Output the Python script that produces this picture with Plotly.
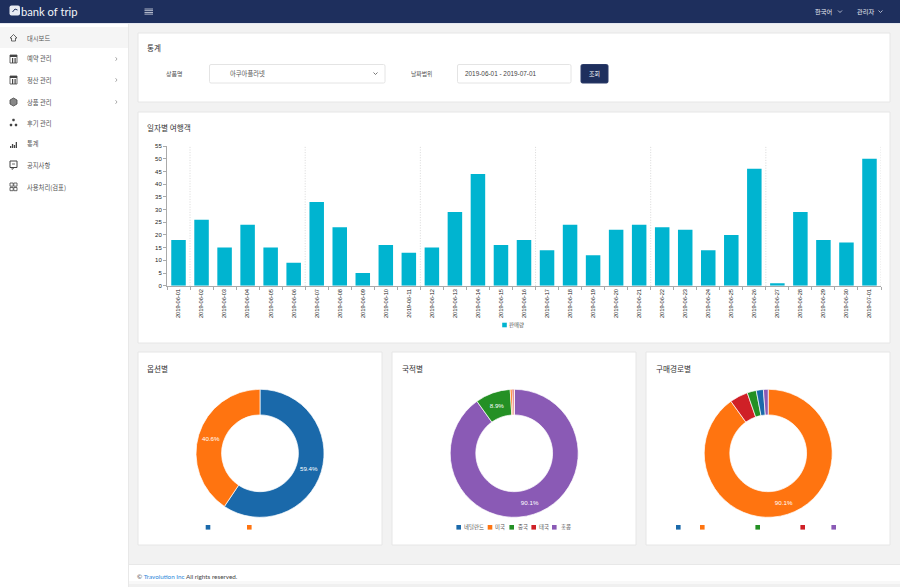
import plotly.graph_objects as go

W, H = 900, 587
FONT = "Noto Sans CJK KR, Noto Sans, sans-serif"
LATIN = "Liberation Sans, Arial, sans-serif"
NAVY = "#1e2f5d"
TEAL = "#00b4d0"
BLUE, ORANGE, GREEN, RED, PURPLE = "#1a69aa", "#ff7410", "#249024", "#cf2027", "#8a5ab5"
PIE_COLORS = [BLUE, ORANGE, GREEN, RED, PURPLE]

dates = ["2019-06-%02d" % d for d in range(1, 31)] + ["2019-07-01"]
sales = [18, 26, 15, 24, 15, 9, 33, 23, 5, 16, 13, 15, 29, 44, 16, 18, 14, 24, 12, 22,
         24, 23, 22, 14, 20, 46, 1, 29, 18, 17, 50]
sales_name = "판매량"

option_labels = ["옵션 1", "옵션 2"]
option_values = [59.4, 40.6]
nation_labels = ["네덜란드", "미국", "중국", "태국", "홍콩"]
nation_values = [0.0, 0.5, 8.9, 0.5, 90.1]
channel_labels = ["경로 1", "경로 2", "경로 3", "경로 4", "경로 5"]
channel_values = [1.8, 90.1, 2.3, 4.6, 1.2]

menu_labels = ["대시보드", "예약 관리", "정산 관리", "상품 관리", "후기 관리", "통계", "공지사항", "사용처리(검표)"]
menu_y = [38, 59, 80, 102, 123, 144, 165, 187]
menu_arrows = [False, True, True, True, False, False, False, False]


def px(x):
    return x / W


def py(y):
    return 1 - y / H


shapes, annos = [], []


def rect(x0, y0, x1, y1, fill, line=None, lw=1, radius=0):
    if radius:
        r = radius
        path = (f"M {px(x0+r)} {py(y0)} L {px(x1-r)} {py(y0)} Q {px(x1)} {py(y0)} {px(x1)} {py(y0+r)} "
                f"L {px(x1)} {py(y1-r)} Q {px(x1)} {py(y1)} {px(x1-r)} {py(y1)} "
                f"L {px(x0+r)} {py(y1)} Q {px(x0)} {py(y1)} {px(x0)} {py(y1-r)} "
                f"L {px(x0)} {py(y0+r)} Q {px(x0)} {py(y0)} {px(x0+r)} {py(y0)} Z")
        shapes.append(dict(type="path", path=path, xref="paper", yref="paper", fillcolor=fill,
                           line=dict(color=line or fill, width=lw if line else 0), layer="below"))
    else:
        shapes.append(dict(type="rect", xref="paper", yref="paper", x0=px(x0), x1=px(x1), y0=py(y0), y1=py(y1),
                           fillcolor=fill, line=dict(color=line or fill, width=lw if line else 0), layer="below"))


def poly(points, color, lw=1, fill=None, close=False):
    d = "M " + " L ".join(f"{px(a)} {py(b)}" for a, b in points) + (" Z" if close else "")
    shapes.append(dict(type="path", path=d, xref="paper", yref="paper", fillcolor=fill or "rgba(0,0,0,0)",
                       line=dict(color=color, width=lw), layer="below"))


def text(x, y, s, size=7, color="#444", anchor="left", font=FONT):
    annos.append(dict(x=px(x), y=py(y), xref="paper", yref="paper", text=s, showarrow=False,
                      xanchor=anchor, yanchor="middle", font=dict(size=size, color=color, family=font),
                      borderpad=0, borderwidth=0))


def chevron(x, y, color, s=2):
    poly([(x - s, y - s / 2), (x, y + s / 2), (x + s, y - s / 2)], color, 0.8)


# page chrome
rect(0, 0, W, H, "#f2f2f2")
rect(0, 24, 128, H, "#ffffff")
rect(128, 24, 129, H, "#e8e8e8")
rect(0, 0, W, 23, NAVY)
rect(0, 23, W, 24, "#e4e7ef")
rect(0, 27, 128, 48, "#f5f5f5")

# logo and top bar
rect(9.5, 5.5, 20, 15.5, "#e8ebf2", radius=2)
poly([(12.5, 12), (15, 9), (17.5, 10)], NAVY, 1)
text(20.5, 11, "bank of trip", 11.2, "#f2f4f8", font="Lato, sans-serif")
for yy in (9, 10.7, 12.4, 14.1):
    rect(144.5, yy - 0.4, 153, yy + 0.4, "#d5d9e4")
text(823, 11, "한국어", 6.2, "#e8ebf2", "center")
chevron(840, 11.5, "#d5d9e4")
text(865, 11, "관리자", 6.2, "#e8ebf2", "center")
chevron(880.5, 11.5, "#d5d9e4")

# sidebar menu
for lab, yy, arrow in zip(menu_labels, menu_y, menu_arrows):
    text(27, yy, lab, 6.3, "#555")
    if arrow:
        poly([(115.5, yy - 1.8), (117, yy), (115.5, yy + 1.8)], "#888", 0.7)

G = "#444"
y = menu_y
poly([(10, y[0]), (13.5, y[0] - 3.5), (17, y[0]), (15.5, y[0]), (15.5, y[0] + 3), (11.5, y[0] + 3), (11.5, y[0])], G, 0.8, close=True)
for yy in (y[1], y[2]):
    rect(10, yy - 4, 17, yy + 4, "#ffffff", G, 0.8)
    rect(10, yy - 4, 17, yy - 2, G)
    rect(12, yy - 1, 13.2, yy + 4, G)
    rect(14.5, yy - 1, 15.7, yy + 4, G)
poly([(10, y[3] - 2), (13.5, y[3] - 4), (17, y[3] - 2), (17, y[3] + 2), (13.5, y[3] + 4), (10, y[3] + 2)], G, 0.8, "#888", True)
for dx, dy in ((13.5, -3), (11, 2), (16, 2)):
    rect(dx - 1.2, y[4] + dy - 1.2, dx + 1.2, y[4] + dy + 1.2, G, radius=0.6)
for i, h in enumerate((2, 4, 3, 6)):
    rect(10 + i * 1.9, y[5] + 4 - h, 11.3 + i * 1.9, y[5] + 4, G)
rect(10, y[6] - 4, 17, y[6] + 2.5, "#ffffff", G, 1)
poly([(12, y[6] + 2.5), (12, y[6] + 4.5), (14.5, y[6] + 2.5)], G, 0.8)
poly([(12, y[6] - 1), (15, y[6] - 1)], G, 0.8)
for xx in (10, 13.8):
    for dy in (-4, 0.5):
        rect(xx, y[7] + dy, xx + 3.2, y[7] + dy + 3.2, "#ffffff", G, 0.8)

# cards
CARD = "#e6e6e6"
for x0, y0, x1, y1 in [(138, 33, 890, 102), (138, 112, 890, 343), (138, 352, 382, 545),
                       (392, 352, 636, 545), (646, 352, 890, 545)]:
    rect(x0, y0, x1, y1, "#ffffff", CARD, 1)

text(147, 48, "통계", 7.6, "#333")
text(147, 128, "일자별 여행객", 7.6, "#333")
text(147, 368, "옵션별", 7.6, "#333")
text(402, 368, "국적별", 7.6, "#333")
text(656, 368, "구매경로별", 7.6, "#333")

# search form
text(174, 73.5, "상품명", 6, "#555", "center")
rect(209.5, 64.5, 385, 83, "#ffffff", "#e4e4e4", 1, 1.5)
text(230, 73.5, "아쿠아플라넷", 6.3, "#555")
chevron(375.5, 73.5, "#555")
text(421, 73.5, "날짜범위", 5.8, "#555", "center")
rect(457.5, 64.5, 571, 83, "#ffffff", "#e4e4e4", 1, 1.5)
text(465, 73.5, "2019-06-01 - 2019-07-01", 6.4, "#444", font=LATIN)
rect(581, 64.5, 608, 83, NAVY, "#2a3a68", 1, 1.5)
text(594.5, 73.5, "조회", 6, "#ffffff", "center")

# footer
rect(129, 564, W, 565, "#e8e8e8")
rect(129, 565, W, 581, "#ffffff")
rect(129, 581, W, 584, "#f8f8f8")
rect(129, 584, W, 587, "#f0f0f0")
text(137, 576, "© <span style='color:#2b86d9'>Travolution Inc</span> All rights reserved.", 6.3, "#444", font="Lato, sans-serif")


# legends
def swatch(x, y0, color, s=2.3):
    rect(x - s, y0 - s, x + s, y0 + s, color)


swatch(504.5, 325, TEAL)
text(509, 325, sales_name, 5.4, "#555")
for x, c in zip([208, 249.3], PIE_COLORS):
    swatch(x, 527.3, c)
for x, c, lab, tx in zip([458.7, 490, 511.7, 533.7, 554.3], PIE_COLORS, nation_labels, [464, 495, 518, 539, 561]):
    swatch(x, 527.3, c)
    text(tx, 527.3, lab, 5.4, "#555")
for x, c in zip([678.3, 702.3, 757.7, 802.7, 833.7], PIE_COLORS):
    swatch(x, 527.3, c)

fig = go.Figure()
fig.add_bar(x=dates, y=sales, name=sales_name, marker=dict(color=TEAL, line=dict(width=0)),
            width=0.63, showlegend=False)

# dotted vertical grid every five categories, on the category axis
for i in range(0, len(dates), 5):
    shapes.append(dict(type="line", xref="x", yref="paper", x0=i + 0.5, x1=i + 0.5,
                       y0=py(285.7), y1=py(146), line=dict(color="#cfcfcf", width=0.8, dash="1px,1.6px"), layer="below"))


def pie(labels, values, cx, cy=453.3, r=64):
    total = sum(values)
    txt = ["%.1f%%" % (100 * v / total) if v / total >= 0.05 else "" for v in values]
    fig.add_pie(labels=labels, values=values, text=txt, textinfo="text", hole=0.6, sort=True, direction="clockwise",
                rotation=0, textposition="inside", insidetextorientation="horizontal",
                insidetextfont=dict(size=6.2, color="#ffffff", family=LATIN),
                marker=dict(colors=PIE_COLORS[:len(values)], line=dict(color="#ffffff", width=0.7)),
                domain=dict(x=[px(cx - r), px(cx + r)], y=[py(cy + r), py(cy - r)]), showlegend=False)


pie(option_labels, option_values, 260)
pie(nation_labels, nation_values, 514.2)
pie(channel_labels, channel_values, 768.2)

fig.update_layout(
    width=W, height=H, margin=dict(l=0, r=0, t=0, b=0, pad=0),
    paper_bgcolor="#f2f2f2", plot_bgcolor="rgba(0,0,0,0)", showlegend=False,
    shapes=shapes, annotations=annos,
    font=dict(family=FONT, color="#333", size=7),
    xaxis=dict(domain=[px(167), px(881)], type="category", tickson="boundaries", ticks="outside", ticklen=3,
               tickcolor="#aaa", linecolor="#aaa", showline=True, showgrid=False, tickangle=-90,
               tickfont=dict(size=5.7, color="#222", family=LATIN),
               range=[-0.5, 30.5], fixedrange=True, automargin=False),
    yaxis=dict(domain=[py(285.7), py(146)], range=[0, 55], dtick=5, ticks="outside", ticklen=3,
               tickcolor="#aaa", linecolor="#aaa", showline=True, showgrid=False, zeroline=False,
               tickfont=dict(size=6, color="#222", family=LATIN), fixedrange=True,
               automargin=False),
)

fig.write_html("out.html", config=dict(displayModeBar=False),
               post_script="document.body.style.margin='0';document.body.style.overflow='hidden';")
